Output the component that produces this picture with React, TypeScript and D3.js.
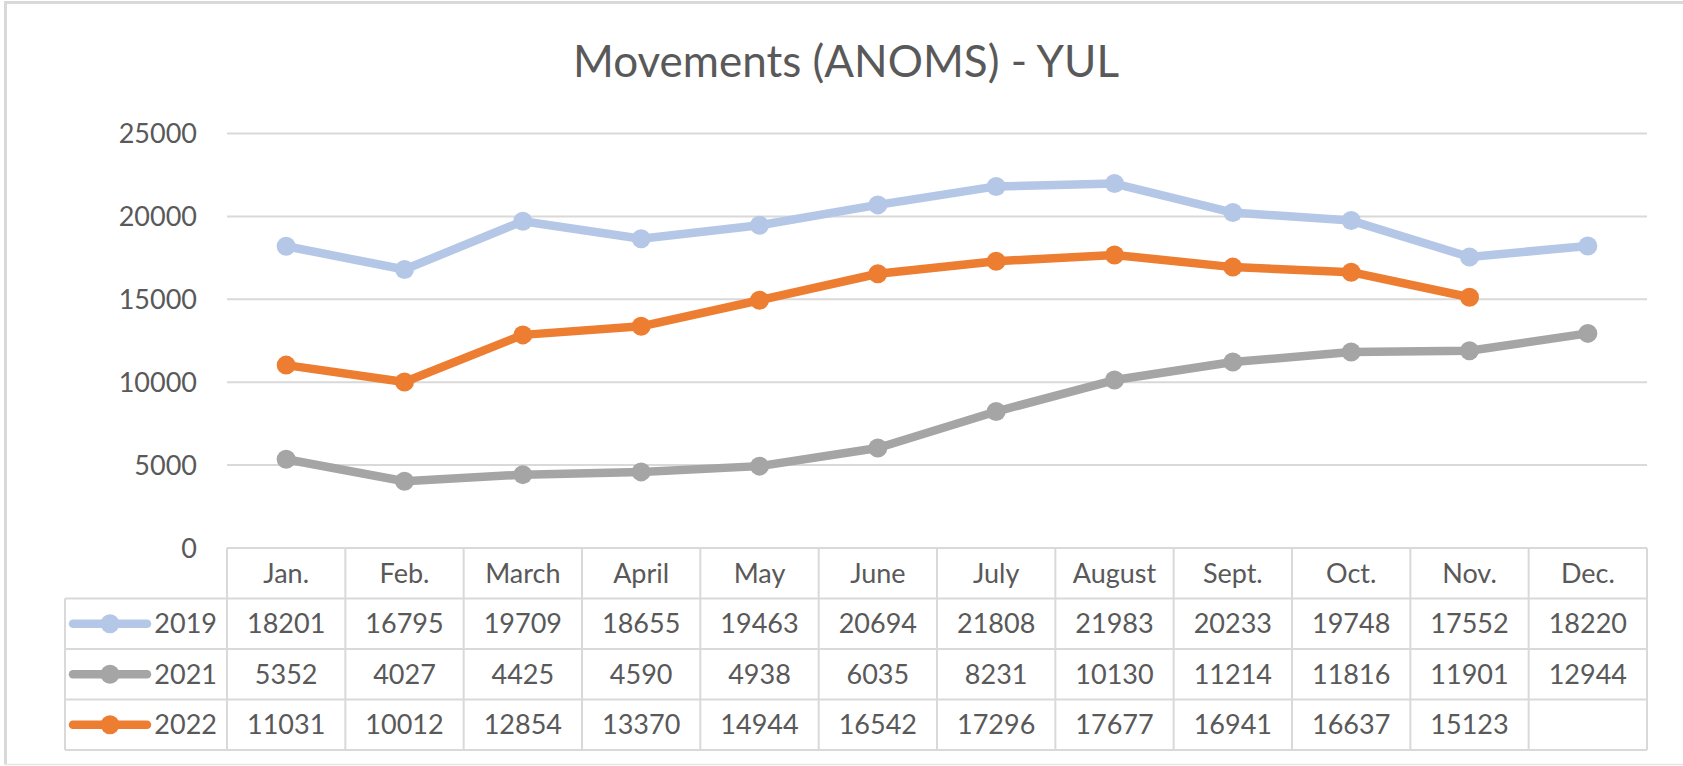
import React from "react";
import * as d3 from "d3";

const title = "Movements (ANOMS) - YUL";
const months = ["Jan.", "Feb.", "March", "April", "May", "June", "July", "August", "Sept.", "Oct.", "Nov.", "Dec."];
const seriesNames = ["2019", "2021", "2022"];
const values2019: (number | null)[] = [18201, 16795, 19709, 18655, 19463, 20694, 21808, 21983, 20233, 19748, 17552, 18220];
const values2021: (number | null)[] = [5352, 4027, 4425, 4590, 4938, 6035, 8231, 10130, 11214, 11816, 11901, 12944];
const values2022: (number | null)[] = [11031, 10012, 12854, 13370, 14944, 16542, 17296, 17677, 16941, 16637, 15123, null];
const seriesColors = ["#B4C7E7", "#A5A5A5", "#ED7D31"];
const yTicks = [0, 5000, 10000, 15000, 20000, 25000];

const W = 1683;
const H = 766;
const FONT = "Lato, 'Open Sans', sans-serif";
const TEXT = "#595959";
const GRID = "#D9D9D9";

export default function App() {
  const series = [values2019, values2021, values2022];
  const plotLeft = 227;
  const plotRight = 1647;
  const yTop = 133.5;
  const yZero = 548;
  const rowH = 50.5;
  const legendLeft = 65;

  const x = d3.scaleBand<string>().domain(months).range([plotLeft, plotRight]).padding(0);
  const y = d3.scaleLinear().domain([0, 25000]).range([yZero, yTop]);
  const cx = (m: string) => (x(m) as number) + x.bandwidth() / 2;

  const line = d3
    .line<number | null>()
    .defined((d) => d !== null)
    .x((_, i) => cx(months[i]))
    .y((d) => y(d as number));

  const rows = seriesNames.length;
  const tableBottom = yZero + rowH * (rows + 1);

  return (
    <div style={{ position: "absolute", left: 0, top: 0 }}>
      <svg width={W} height={H} style={{ display: "block", background: "#fff" }}>
        {/* frame */}
        <rect x={0} y={0} width={W} height={H} fill="#fff" />
        <line x1={4} x2={W} y1={2.5} y2={2.5} stroke={GRID} strokeWidth={3} />
        <line x1={5.5} x2={5.5} y1={1} y2={764} stroke={GRID} strokeWidth={3} />
        <line x1={4} x2={W} y1={764.5} y2={764.5} stroke="#E6E6E6" strokeWidth={1.5} />

        {/* title */}
        <text x={846} y={77} textAnchor="middle" fontFamily={FONT} fontSize={44} fill={TEXT}>
          {title}
        </text>

        {/* gridlines */}
        {yTicks.filter((t) => t > 0).map((t) => (
          <line key={t} x1={plotLeft} x2={plotRight} y1={y(t)} y2={y(t)} stroke={GRID} strokeWidth={2} />
        ))}
        {/* y labels */}
        {yTicks.map((t) => (
          <text key={t} x={197} y={y(t)} dy="0.36em" textAnchor="end" fontFamily={FONT} fontSize={27} fill={TEXT}>
            {t}
          </text>
        ))}

        {/* data table */}
        <g stroke={GRID} strokeWidth={2} fill="none">
          {/* header row top (axis line) */}
          <line x1={plotLeft} x2={plotRight} y1={yZero} y2={yZero} />
          {d3.range(rows + 1).map((r) => (
            <line key={r} x1={legendLeft} x2={plotRight} y1={yZero + rowH * (r + 1)} y2={yZero + rowH * (r + 1)} />
          ))}
          <line x1={legendLeft} x2={legendLeft} y1={yZero + rowH} y2={tableBottom} />
          {months.map((m) => (
            <line key={m} x1={x(m) as number} x2={x(m) as number} y1={yZero} y2={tableBottom} />
          ))}
          <line x1={plotRight} x2={plotRight} y1={yZero} y2={tableBottom} />
        </g>
        {months.map((m) => (
          <text key={m} x={cx(m)} y={yZero + rowH / 2} dy="0.36em" textAnchor="middle" fontFamily={FONT} fontSize={27} fill={TEXT}>
            {m}
          </text>
        ))}
        {series.map((vals, si) => {
          const rowY = yZero + rowH * (si + 1) + rowH / 2;
          return (
            <g key={si}>
              <line x1={73} x2={147} y1={rowY} y2={rowY} stroke={seriesColors[si]} strokeWidth={8.5} strokeLinecap="round" />
              <circle cx={110} cy={rowY} r={9.5} fill={seriesColors[si]} />
              <text x={217} y={rowY} dy="0.36em" textAnchor="end" fontFamily={FONT} fontSize={27} fill={TEXT}>
                {seriesNames[si]}
              </text>
              {vals.map((v, i) =>
                v === null ? null : (
                  <text key={i} x={cx(months[i])} y={rowY} dy="0.36em" textAnchor="middle" fontFamily={FONT} fontSize={27} fill={TEXT}>
                    {v}
                  </text>
                )
              )}
            </g>
          );
        })}

        {/* series lines */}
        {series.map((vals, si) => (
          <g key={si}>
            <path d={line(vals) || ""} fill="none" stroke={seriesColors[si]} strokeWidth={8.5} strokeLinejoin="round" strokeLinecap="round" />
            {vals.map((v, i) =>
              v === null ? null : <circle key={i} cx={cx(months[i])} cy={y(v)} r={9.5} fill={seriesColors[si]} />
            )}
          </g>
        ))}
      </svg>
    </div>
  );
}
